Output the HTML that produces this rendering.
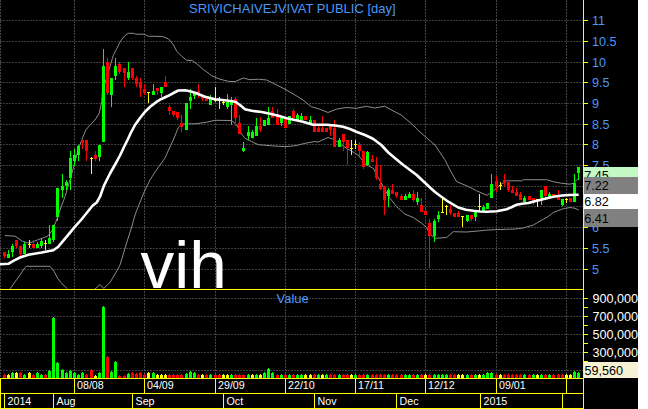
<!DOCTYPE html>
<html><head><meta charset="utf-8"><title>chart</title>
<style>
html,body{margin:0;padding:0;background:#fff;}
body{width:648px;height:409px;overflow:hidden;position:relative;font-family:"Liberation Sans",sans-serif;}
</style></head><body>
<svg width="648" height="409" viewBox="0 0 648 409" style="position:absolute;left:0;top:0">
<rect x="0" y="0" width="638" height="409" fill="#000"/>
<g stroke-width="1" stroke-dasharray="2 1" shape-rendering="crispEdges">
<g stroke="#3b3d3b">
<line x1="0" y1="20.5" x2="583" y2="20.5"/>
<line x1="0" y1="41.5" x2="583" y2="41.5"/>
<line x1="0" y1="62.5" x2="583" y2="62.5"/>
<line x1="0" y1="82.5" x2="583" y2="82.5"/>
<line x1="0" y1="103.5" x2="583" y2="103.5"/>
<line x1="0" y1="124.5" x2="583" y2="124.5"/>
<line x1="0" y1="144.5" x2="583" y2="144.5"/>
<line x1="0" y1="165.5" x2="583" y2="165.5"/>
<line x1="0" y1="186.5" x2="583" y2="186.5"/>
<line x1="0" y1="206.5" x2="583" y2="206.5"/>
<line x1="0" y1="227.5" x2="583" y2="227.5"/>
<line x1="0" y1="248.5" x2="583" y2="248.5"/>
<line x1="0" y1="269.5" x2="583" y2="269.5"/>
<line x1="0" y1="298.5" x2="583" y2="298.5"/>
<line x1="0" y1="316.5" x2="583" y2="316.5"/>
<line x1="0" y1="334.5" x2="583" y2="334.5"/>
<line x1="0" y1="352.5" x2="583" y2="352.5"/>
<line x1="0" y1="370.5" x2="583" y2="370.5"/>
</g><g stroke="#47434b">
<line x1="0.5" y1="0" x2="0.5" y2="378"/>
<line x1="74.5" y1="0" x2="74.5" y2="378"/>
<line x1="144.5" y1="0" x2="144.5" y2="378"/>
<line x1="215.5" y1="0" x2="215.5" y2="378"/>
<line x1="285.5" y1="0" x2="285.5" y2="378"/>
<line x1="355.5" y1="0" x2="355.5" y2="378"/>
<line x1="425.5" y1="0" x2="425.5" y2="378"/>
<line x1="496.5" y1="0" x2="496.5" y2="378"/>
<line x1="566.5" y1="0" x2="566.5" y2="378"/>
</g></g>
<text x="140.5" y="287.5" font-family="Liberation Sans, sans-serif" font-size="67.5" fill="#fff">vih</text>
<g fill="none" stroke="#8c8c8c" stroke-width="1">
<polyline points="5.0,235.5 15.0,236.2 22.5,241.2 27.5,243.0 32.0,242.0 37.5,240.0 47.5,236.2 52.5,230.0 56.2,221.0 60.0,210.0 65.0,196.7 70.5,178.3 74.2,165.0 77.5,151.7 81.7,140.0 85.8,130.0 90.0,125.0 95.0,120.0 99.2,113.3 101.7,101.7 102.5,90.0 103.3,88.7 108.3,72.0 113.3,55.3 116.7,48.7 120.0,42.0 124.2,36.2 128.3,33.3 133.3,33.3 135.8,34.2 144.2,34.2 148.3,36.2 162.5,36.5 168.3,38.7 173.3,44.5 176.7,51.2 181.7,56.2 186.7,60.3 192.5,60.7 196.7,63.7 203.3,69.5 208.0,72.8 211.7,75.8 220.0,79.2 228.3,81.3 235.0,81.7 243.3,78.0 250.0,79.7 258.3,79.2 266.7,80.0 275.0,84.2 285.0,89.2 295.0,95.0 303.0,100.0 311.3,106.7 319.7,109.2 328.0,112.5 336.3,109.2 346.3,107.5 356.3,108.3 366.3,106.3 374.7,108.0 384.7,106.3 393.0,110.8 401.3,115.0 411.0,123.3 420.0,132.0 428.0,139.0 435.0,145.0 441.7,155.0 445.0,160.0 450.0,170.0 456.7,181.7 466.7,185.8 476.7,190.8 486.7,195.3 491.7,192.5 500.0,185.0 506.7,180.8 521.7,180.8 523.3,179.7 546.7,179.7 553.3,181.7 561.7,183.3 570.0,184.2 573.3,183.3 576.7,180.0 578.7,178.3"/>
<polyline points="10.0,289.0 14.2,283.0 20.0,275.0 25.0,267.5 26.7,266.3 50.0,266.3 53.3,270.0 57.5,278.0 60.8,282.5 67.5,289.0"/>
<polyline points="95.0,289.0 100.0,284.5 103.7,288.5 110.0,282.5 115.0,274.0 120.0,265.0 127.5,240.0 131.7,227.0 135.0,215.0 138.0,207.0 145.0,190.0 150.0,180.0 155.0,172.0 160.0,165.0 165.0,158.0 169.0,149.0 173.3,140.0 178.3,127.5 181.7,124.2 188.3,123.8 195.0,123.8 205.0,122.5 215.0,120.3 231.7,120.5 236.7,125.0 241.7,134.2 245.0,138.3 251.7,141.7 258.3,144.7 271.7,145.8 285.0,146.7 295.0,145.8 305.0,143.3 315.0,141.5 318.0,142.0 328.0,137.5 334.7,139.7 341.3,145.0 349.7,150.0 358.0,155.0 362.0,160.0 365.0,164.2 373.3,168.3 380.0,180.8 385.0,190.0 390.0,198.3 396.7,206.7 405.0,214.2 413.3,217.5 421.7,223.3 426.7,227.5 430.0,234.2 435.0,238.3 446.7,237.5 453.3,231.7 466.7,232.0 480.0,230.8 488.0,230.0 500.0,229.5 515.0,229.0 523.3,228.0 533.3,225.0 543.3,219.2 548.0,216.7 553.3,212.5 561.7,209.2 570.0,207.5 575.0,208.3 578.7,210.0"/>
</g>
<g shape-rendering="crispEdges">
<rect x="4" y="252" width="1" height="6" fill="#ff0000"/>
<rect x="3" y="252" width="3" height="4" fill="#ff0000"/>
<rect x="8" y="250" width="1" height="8" fill="#00ff00"/>
<rect x="7" y="254" width="3" height="4" fill="#00ff00"/>
<rect x="12" y="244" width="1" height="13" fill="#00ff00"/>
<rect x="11" y="246" width="3" height="6" fill="#00ff00"/>
<rect x="16" y="240" width="1" height="8" fill="#ff0000"/>
<rect x="15" y="240" width="3" height="6" fill="#ff0000"/>
<rect x="20" y="246" width="1" height="10" fill="#ff0000"/>
<rect x="19" y="246" width="3" height="8" fill="#ff0000"/>
<rect x="24" y="242" width="1" height="12" fill="#00ff00"/>
<rect x="23" y="244" width="3" height="10" fill="#00ff00"/>
<rect x="29" y="240.0" width="1" height="8.0" fill="#ffff00"/>
<rect x="28" y="244" width="3" height="1" fill="#ffff00"/>
<rect x="33" y="240" width="1" height="8" fill="#ff0000"/>
<rect x="32" y="244" width="3" height="4" fill="#ff0000"/>
<rect x="37" y="242" width="1" height="6" fill="#00ff00"/>
<rect x="36" y="244" width="3" height="4" fill="#00ff00"/>
<rect x="41" y="238" width="1" height="10" fill="#00ff00"/>
<rect x="40" y="241" width="3" height="5" fill="#00ff00"/>
<rect x="45" y="240.0" width="1" height="10.0" fill="#ffff00"/>
<rect x="44" y="243" width="3" height="1" fill="#ffff00"/>
<rect x="49" y="225" width="1" height="19" fill="#00ff00"/>
<rect x="48" y="238" width="3" height="6" fill="#00ff00"/>
<rect x="53" y="225" width="1" height="17" fill="#00ff00"/>
<rect x="52" y="225" width="3" height="15" fill="#00ff00"/>
<rect x="57" y="188" width="1" height="33" fill="#00ff00"/>
<rect x="56" y="188" width="3" height="29" fill="#00ff00"/>
<rect x="62" y="174" width="1" height="24" fill="#00ff00"/>
<rect x="61" y="186" width="3" height="4" fill="#00ff00"/>
<rect x="66" y="180" width="1" height="10" fill="#00ff00"/>
<rect x="65" y="182" width="3" height="4" fill="#00ff00"/>
<rect x="70" y="151" width="1" height="39" fill="#00ff00"/>
<rect x="69" y="158" width="3" height="20" fill="#00ff00"/>
<rect x="74" y="149" width="1" height="17" fill="#00ff00"/>
<rect x="73" y="155" width="3" height="6" fill="#00ff00"/>
<rect x="78" y="145" width="1" height="16" fill="#00ff00"/>
<rect x="77" y="146" width="3" height="9" fill="#00ff00"/>
<rect x="82" y="140" width="1" height="9" fill="#ff0000"/>
<rect x="81" y="140" width="3" height="3" fill="#ff0000"/>
<rect x="86" y="140" width="1" height="21" fill="#ff0000"/>
<rect x="85" y="140" width="3" height="11" fill="#ff0000"/>
<rect x="91" y="157.0" width="1" height="17.0" fill="#ffff00"/>
<rect x="90" y="158" width="3" height="1" fill="#ffff00"/>
<rect x="95" y="151" width="1" height="10" fill="#ff0000"/>
<rect x="94" y="155" width="3" height="4" fill="#ff0000"/>
<rect x="99" y="145" width="1" height="16" fill="#00ff00"/>
<rect x="98" y="145" width="3" height="12" fill="#00ff00"/>
<rect x="103" y="49" width="1" height="93" fill="#00ff00"/>
<rect x="102" y="66" width="3" height="76" fill="#00ff00"/>
<rect x="107" y="58" width="1" height="37" fill="#ff0000"/>
<rect x="106" y="62" width="3" height="31" fill="#ff0000"/>
<rect x="111" y="78" width="1" height="29" fill="#00ff00"/>
<rect x="110" y="78" width="3" height="17" fill="#00ff00"/>
<rect x="115" y="58" width="1" height="22" fill="#00ff00"/>
<rect x="114" y="66" width="3" height="10" fill="#00ff00"/>
<rect x="119" y="62" width="1" height="12" fill="#ff0000"/>
<rect x="118" y="64" width="3" height="8" fill="#ff0000"/>
<rect x="124" y="68" width="1" height="19" fill="#ff0000"/>
<rect x="123" y="68" width="3" height="5" fill="#ff0000"/>
<rect x="128" y="62" width="1" height="18" fill="#00ff00"/>
<rect x="127" y="72" width="3" height="6" fill="#00ff00"/>
<rect x="132" y="68" width="1" height="12" fill="#ff0000"/>
<rect x="131" y="68" width="3" height="10" fill="#ff0000"/>
<rect x="136" y="76" width="1" height="11" fill="#ff0000"/>
<rect x="135" y="78" width="3" height="6" fill="#ff0000"/>
<rect x="140" y="78" width="1" height="19" fill="#ff0000"/>
<rect x="139" y="82" width="3" height="6" fill="#ff0000"/>
<rect x="144" y="84" width="1" height="11" fill="#ff0000"/>
<rect x="143" y="89" width="3" height="4" fill="#ff0000"/>
<rect x="148" y="92.0" width="1" height="11.0" fill="#ffff00"/>
<rect x="147" y="92" width="3" height="1" fill="#ffff00"/>
<rect x="153" y="84" width="1" height="11" fill="#00ff00"/>
<rect x="152" y="91" width="3" height="4" fill="#00ff00"/>
<rect x="157" y="88" width="1" height="7" fill="#ff0000"/>
<rect x="156" y="88" width="3" height="3" fill="#ff0000"/>
<rect x="161" y="87" width="1" height="10" fill="#00ff00"/>
<rect x="160" y="87" width="3" height="6" fill="#00ff00"/>
<rect x="165" y="76" width="1" height="11" fill="#ff0000"/>
<rect x="164" y="82" width="3" height="5" fill="#ff0000"/>
<rect x="169" y="105" width="1" height="10" fill="#ff0000"/>
<rect x="168" y="107" width="3" height="4" fill="#ff0000"/>
<rect x="173" y="111" width="1" height="6" fill="#ff0000"/>
<rect x="172" y="111" width="3" height="4" fill="#ff0000"/>
<rect x="177" y="112" width="1" height="8" fill="#ff0000"/>
<rect x="176" y="112" width="3" height="6" fill="#ff0000"/>
<rect x="181" y="115" width="1" height="17" fill="#ff0000"/>
<rect x="180" y="123" width="3" height="4" fill="#ff0000"/>
<rect x="186" y="103" width="1" height="27" fill="#00ff00"/>
<rect x="185" y="103" width="3" height="27" fill="#00ff00"/>
<rect x="190" y="89" width="1" height="20" fill="#00ff00"/>
<rect x="189" y="97" width="3" height="4" fill="#00ff00"/>
<rect x="194" y="92" width="1" height="7" fill="#00ff00"/>
<rect x="193" y="92" width="3" height="4" fill="#00ff00"/>
<rect x="198" y="84" width="1" height="14" fill="#ff0000"/>
<rect x="197" y="91" width="3" height="4" fill="#ff0000"/>
<rect x="202" y="97" width="1" height="4" fill="#ff0000"/>
<rect x="201" y="97" width="3" height="2" fill="#ff0000"/>
<rect x="206" y="97" width="1" height="4" fill="#ff0000"/>
<rect x="205" y="97" width="3" height="4" fill="#ff0000"/>
<rect x="210" y="95" width="1" height="10" fill="#00ff00"/>
<rect x="209" y="98" width="3" height="7" fill="#00ff00"/>
<rect x="215" y="87.0" width="1" height="15.0" fill="#ffff00"/>
<rect x="214" y="100" width="3" height="1" fill="#ffff00"/>
<rect x="219" y="97.0" width="1" height="12.0" fill="#ffff00"/>
<rect x="218" y="100" width="3" height="1" fill="#ffff00"/>
<rect x="223" y="101.0" width="1" height="4.0" fill="#ffff00"/>
<rect x="222" y="102" width="3" height="1" fill="#ffff00"/>
<rect x="227" y="94" width="1" height="15" fill="#00ff00"/>
<rect x="226" y="102" width="3" height="5" fill="#00ff00"/>
<rect x="231" y="97" width="1" height="28" fill="#00ff00"/>
<rect x="230" y="102" width="3" height="3" fill="#00ff00"/>
<rect x="235" y="97" width="1" height="29" fill="#ff0000"/>
<rect x="234" y="99" width="3" height="19" fill="#ff0000"/>
<rect x="239" y="115" width="1" height="19" fill="#ff0000"/>
<rect x="238" y="123" width="3" height="11" fill="#ff0000"/>
<rect x="243" y="142" width="1" height="10" fill="#00ff00"/>
<rect x="242" y="148" width="3" height="3" fill="#00ff00"/>
<rect x="248" y="126" width="1" height="14" fill="#00ff00"/>
<rect x="247" y="132" width="3" height="4" fill="#00ff00"/>
<rect x="252" y="130" width="1" height="8" fill="#00ff00"/>
<rect x="251" y="132" width="3" height="6" fill="#00ff00"/>
<rect x="256" y="118" width="1" height="18" fill="#00ff00"/>
<rect x="255" y="126" width="3" height="10" fill="#00ff00"/>
<rect x="260" y="117" width="1" height="15" fill="#ff0000"/>
<rect x="259" y="126" width="3" height="4" fill="#ff0000"/>
<rect x="264" y="120" width="1" height="6" fill="#00ff00"/>
<rect x="263" y="120" width="3" height="6" fill="#00ff00"/>
<rect x="268" y="107" width="1" height="18" fill="#00ff00"/>
<rect x="267" y="118" width="3" height="7" fill="#00ff00"/>
<rect x="272" y="107" width="1" height="11" fill="#ff0000"/>
<rect x="271" y="111" width="3" height="7" fill="#ff0000"/>
<rect x="277" y="109" width="1" height="16" fill="#ff0000"/>
<rect x="276" y="114" width="3" height="11" fill="#ff0000"/>
<rect x="281" y="118" width="1" height="8" fill="#00ff00"/>
<rect x="280" y="118" width="3" height="5" fill="#00ff00"/>
<rect x="285" y="119" width="1" height="9" fill="#ff0000"/>
<rect x="284" y="119" width="3" height="9" fill="#ff0000"/>
<rect x="289" y="116" width="1" height="8" fill="#00ff00"/>
<rect x="288" y="116" width="3" height="8" fill="#00ff00"/>
<rect x="293" y="109" width="1" height="9" fill="#ff0000"/>
<rect x="292" y="111" width="3" height="7" fill="#ff0000"/>
<rect x="297" y="113" width="1" height="7" fill="#00ff00"/>
<rect x="296" y="115" width="3" height="5" fill="#00ff00"/>
<rect x="301" y="113" width="1" height="7" fill="#00ff00"/>
<rect x="300" y="116" width="3" height="4" fill="#00ff00"/>
<rect x="305" y="116" width="1" height="4" fill="#ff0000"/>
<rect x="304" y="116" width="3" height="4" fill="#ff0000"/>
<rect x="310" y="116" width="1" height="8" fill="#00ff00"/>
<rect x="309" y="120" width="3" height="4" fill="#00ff00"/>
<rect x="314" y="120" width="1" height="12" fill="#ff0000"/>
<rect x="313" y="120" width="3" height="12" fill="#ff0000"/>
<rect x="318" y="126" width="1" height="6" fill="#ff0000"/>
<rect x="317" y="128" width="3" height="4" fill="#ff0000"/>
<rect x="322" y="116" width="1" height="16" fill="#ff0000"/>
<rect x="321" y="128" width="3" height="4" fill="#ff0000"/>
<rect x="326" y="128" width="1" height="4" fill="#ff0000"/>
<rect x="325" y="128" width="3" height="4" fill="#ff0000"/>
<rect x="330" y="126" width="1" height="10" fill="#ff0000"/>
<rect x="329" y="126" width="3" height="4" fill="#ff0000"/>
<rect x="334" y="120" width="1" height="27" fill="#ff0000"/>
<rect x="333" y="128" width="3" height="19" fill="#ff0000"/>
<rect x="339" y="138" width="1" height="9" fill="#00ff00"/>
<rect x="338" y="140" width="3" height="7" fill="#00ff00"/>
<rect x="343" y="134" width="1" height="17" fill="#ff0000"/>
<rect x="342" y="134" width="3" height="8" fill="#ff0000"/>
<rect x="347" y="140" width="1" height="25" fill="#ff0000"/>
<rect x="346" y="140" width="3" height="8" fill="#ff0000"/>
<rect x="351" y="140.0" width="1" height="15.0" fill="#ffff00"/>
<rect x="350" y="148" width="3" height="1" fill="#ffff00"/>
<rect x="355" y="140.0" width="1" height="9.0" fill="#ffff00"/>
<rect x="354" y="144" width="3" height="1" fill="#ffff00"/>
<rect x="359" y="142" width="1" height="14" fill="#ff0000"/>
<rect x="358" y="145" width="3" height="6" fill="#ff0000"/>
<rect x="363" y="151" width="1" height="18" fill="#ff0000"/>
<rect x="362" y="151" width="3" height="16" fill="#ff0000"/>
<rect x="367" y="151" width="1" height="14" fill="#00ff00"/>
<rect x="366" y="152" width="3" height="13" fill="#00ff00"/>
<rect x="372" y="155" width="1" height="7" fill="#ff0000"/>
<rect x="371" y="159" width="3" height="3" fill="#ff0000"/>
<rect x="376" y="157" width="1" height="23" fill="#ff0000"/>
<rect x="375" y="165" width="3" height="13" fill="#ff0000"/>
<rect x="380" y="165" width="1" height="25" fill="#ff0000"/>
<rect x="379" y="184" width="3" height="5" fill="#ff0000"/>
<rect x="384" y="186" width="1" height="29" fill="#ff0000"/>
<rect x="383" y="186" width="3" height="14" fill="#ff0000"/>
<rect x="388" y="188" width="1" height="19" fill="#00ff00"/>
<rect x="387" y="190" width="3" height="6" fill="#00ff00"/>
<rect x="392" y="184" width="1" height="10" fill="#ff0000"/>
<rect x="391" y="190" width="3" height="4" fill="#ff0000"/>
<rect x="396" y="192" width="1" height="6" fill="#ff0000"/>
<rect x="395" y="192" width="3" height="4" fill="#ff0000"/>
<rect x="401" y="194" width="1" height="6" fill="#ff0000"/>
<rect x="400" y="196" width="3" height="4" fill="#ff0000"/>
<rect x="405" y="194" width="1" height="6" fill="#00ff00"/>
<rect x="404" y="196" width="3" height="4" fill="#00ff00"/>
<rect x="409" y="192" width="1" height="6" fill="#00ff00"/>
<rect x="408" y="194" width="3" height="4" fill="#00ff00"/>
<rect x="413" y="190" width="1" height="12" fill="#ff0000"/>
<rect x="412" y="194" width="3" height="6" fill="#ff0000"/>
<rect x="417" y="192" width="1" height="13" fill="#00ff00"/>
<rect x="416" y="198" width="3" height="4" fill="#00ff00"/>
<rect x="421" y="198" width="1" height="14" fill="#ff0000"/>
<rect x="420" y="205" width="3" height="7" fill="#ff0000"/>
<rect x="425" y="207" width="1" height="8" fill="#ff0000"/>
<rect x="424" y="211" width="3" height="4" fill="#ff0000"/>
<rect x="429" y="219" width="1" height="49" fill="#ff0000"/>
<rect x="428" y="223" width="3" height="13" fill="#ff0000"/>
<rect x="434" y="219" width="1" height="23" fill="#00ff00"/>
<rect x="433" y="221" width="3" height="15" fill="#00ff00"/>
<rect x="438" y="211" width="1" height="11" fill="#00ff00"/>
<rect x="437" y="215" width="3" height="4" fill="#00ff00"/>
<rect x="442" y="198.0" width="1" height="15.0" fill="#ffff00"/>
<rect x="441" y="212" width="3" height="1" fill="#ffff00"/>
<rect x="446" y="205.0" width="1" height="10.0" fill="#ffff00"/>
<rect x="445" y="206" width="3" height="1" fill="#ffff00"/>
<rect x="450" y="205" width="1" height="10" fill="#ff0000"/>
<rect x="449" y="209" width="3" height="4" fill="#ff0000"/>
<rect x="454" y="213" width="1" height="4" fill="#ff0000"/>
<rect x="453" y="213" width="3" height="4" fill="#ff0000"/>
<rect x="458" y="211" width="1" height="6" fill="#ff0000"/>
<rect x="457" y="213" width="3" height="4" fill="#ff0000"/>
<rect x="462" y="216.0" width="1" height="11.0" fill="#ffff00"/>
<rect x="461" y="216" width="3" height="1" fill="#ffff00"/>
<rect x="467" y="215" width="1" height="7" fill="#00ff00"/>
<rect x="466" y="215" width="3" height="6" fill="#00ff00"/>
<rect x="471" y="215" width="1" height="6" fill="#ff0000"/>
<rect x="470" y="215" width="3" height="4" fill="#ff0000"/>
<rect x="475" y="212" width="1" height="9" fill="#00ff00"/>
<rect x="474" y="212" width="3" height="5" fill="#00ff00"/>
<rect x="479" y="194.0" width="1" height="17.0" fill="#ffff00"/>
<rect x="478" y="206" width="3" height="1" fill="#ffff00"/>
<rect x="483" y="205" width="1" height="6" fill="#00ff00"/>
<rect x="482" y="207" width="3" height="4" fill="#00ff00"/>
<rect x="487" y="203" width="1" height="6" fill="#00ff00"/>
<rect x="486" y="203" width="3" height="6" fill="#00ff00"/>
<rect x="491" y="174" width="1" height="24" fill="#00ff00"/>
<rect x="490" y="184" width="3" height="14" fill="#00ff00"/>
<rect x="496" y="176" width="1" height="16" fill="#ff0000"/>
<rect x="495" y="181" width="3" height="5" fill="#ff0000"/>
<rect x="500" y="182.0" width="1" height="8.0" fill="#ffff00"/>
<rect x="499" y="185" width="3" height="1" fill="#ffff00"/>
<rect x="504" y="174" width="1" height="12" fill="#ff0000"/>
<rect x="503" y="180" width="3" height="3" fill="#ff0000"/>
<rect x="508" y="182" width="1" height="10" fill="#ff0000"/>
<rect x="507" y="182" width="3" height="8" fill="#ff0000"/>
<rect x="512" y="186" width="1" height="7" fill="#ff0000"/>
<rect x="511" y="190" width="3" height="3" fill="#ff0000"/>
<rect x="516" y="188" width="1" height="8" fill="#ff0000"/>
<rect x="515" y="192" width="3" height="4" fill="#ff0000"/>
<rect x="520" y="192" width="1" height="8" fill="#ff0000"/>
<rect x="519" y="194" width="3" height="6" fill="#ff0000"/>
<rect x="524" y="196" width="1" height="6" fill="#00ff00"/>
<rect x="523" y="198" width="3" height="4" fill="#00ff00"/>
<rect x="529" y="196" width="1" height="4" fill="#ff0000"/>
<rect x="528" y="196" width="3" height="4" fill="#ff0000"/>
<rect x="533" y="198" width="1" height="7" fill="#ff0000"/>
<rect x="532" y="198" width="3" height="4" fill="#ff0000"/>
<rect x="537" y="199.0" width="1" height="8.0" fill="#ffff00"/>
<rect x="536" y="199" width="3" height="1" fill="#ffff00"/>
<rect x="541" y="190" width="1" height="15" fill="#00ff00"/>
<rect x="540" y="190" width="3" height="8" fill="#00ff00"/>
<rect x="545" y="186" width="1" height="12" fill="#ff0000"/>
<rect x="544" y="186" width="3" height="10" fill="#ff0000"/>
<rect x="549" y="192" width="1" height="6" fill="#00ff00"/>
<rect x="548" y="194" width="3" height="4" fill="#00ff00"/>
<rect x="553" y="194" width="1" height="3" fill="#ff0000"/>
<rect x="552" y="194" width="3" height="3" fill="#ff0000"/>
<rect x="558" y="190" width="1" height="10" fill="#ff0000"/>
<rect x="557" y="197" width="3" height="3" fill="#ff0000"/>
<rect x="562" y="199" width="1" height="7" fill="#00ff00"/>
<rect x="561" y="199" width="3" height="6" fill="#00ff00"/>
<rect x="566" y="198.0" width="1" height="5.0" fill="#ffff00"/>
<rect x="565" y="199" width="3" height="1" fill="#ffff00"/>
<rect x="570" y="198" width="1" height="4" fill="#ff0000"/>
<rect x="569" y="198" width="3" height="4" fill="#ff0000"/>
<rect x="574" y="174" width="1" height="28" fill="#00ff00"/>
<rect x="573" y="183" width="3" height="19" fill="#00ff00"/>
<rect x="578" y="167" width="1" height="13" fill="#00ff00"/>
<rect x="577" y="167" width="3" height="6" fill="#00ff00"/>
</g>
<polyline points="0.0,264.2 8.3,263.8 13.3,260.8 20.0,257.5 28.3,254.7 41.7,252.5 53.3,250.3 58.3,246.7 66.7,236.7 75.0,226.7 81.0,220.0 92.5,205.8 96.7,202.5 100.0,196.7 104.0,185.5 110.0,173.5 115.4,164.0 120.0,155.5 124.0,147.0 127.5,140.0 131.0,132.5 135.0,125.0 140.0,118.0 145.0,111.7 150.5,106.5 156.7,101.7 162.0,98.7 168.3,95.8 173.5,93.0 178.3,90.5 185.0,90.3 190.0,91.3 195.0,92.8 205.0,96.7 215.0,99.2 225.0,100.3 235.0,101.7 240.0,105.0 245.0,109.2 251.7,110.8 261.7,112.0 270.0,113.7 278.3,115.8 286.7,118.3 295.0,120.0 303.0,121.7 313.0,124.7 326.3,124.7 335.0,125.5 343.0,126.7 350.0,129.0 356.3,131.7 365.0,135.0 373.0,138.7 381.3,145.0 388.3,152.5 396.0,159.0 403.3,165.0 410.0,170.0 416.7,175.0 423.0,181.0 430.0,187.5 435.0,192.0 440.0,195.8 448.3,201.7 458.3,207.5 466.0,209.7 473.3,210.8 480.0,211.5 486.7,211.7 496.7,211.3 506.7,209.2 512.0,207.0 516.7,204.7 522.0,203.7 528.3,203.0 536.7,200.8 545.0,198.8 553.3,196.7 562.0,195.5 570.0,195.0 578.7,194.7" fill="none" stroke="#fff" stroke-width="2.6" stroke-linejoin="round"/>
<g shape-rendering="crispEdges">
<rect x="0" y="289" width="584" height="1" fill="#ffff00"/>
<rect x="3" y="375" width="3" height="3" fill="#ff0000"/>
<rect x="4" y="374" width="1" height="1" fill="#ff0000"/>
<rect x="7" y="375" width="3" height="3" fill="#ffff00"/>
<rect x="8" y="374" width="1" height="1" fill="#ffff00"/>
<rect x="11" y="373" width="3" height="5" fill="#00ff00"/>
<rect x="12" y="372" width="1" height="1" fill="#00ff00"/>
<rect x="15" y="373" width="3" height="5" fill="#ffff00"/>
<rect x="16" y="372" width="1" height="1" fill="#ffff00"/>
<rect x="19" y="373" width="3" height="5" fill="#ff0000"/>
<rect x="20" y="372" width="1" height="1" fill="#ff0000"/>
<rect x="23" y="375" width="3" height="3" fill="#00ff00"/>
<rect x="24" y="374" width="1" height="1" fill="#00ff00"/>
<rect x="28" y="373" width="3" height="5" fill="#ffff00"/>
<rect x="29" y="372" width="1" height="1" fill="#ffff00"/>
<rect x="32" y="375" width="3" height="3" fill="#ff0000"/>
<rect x="33" y="374" width="1" height="1" fill="#ff0000"/>
<rect x="36" y="373" width="3" height="5" fill="#00ff00"/>
<rect x="37" y="372" width="1" height="1" fill="#00ff00"/>
<rect x="40" y="375" width="3" height="3" fill="#00ff00"/>
<rect x="41" y="374" width="1" height="1" fill="#00ff00"/>
<rect x="44" y="375" width="3" height="3" fill="#ff0000"/>
<rect x="45" y="374" width="1" height="1" fill="#ff0000"/>
<rect x="48" y="371" width="3" height="7" fill="#00ff00"/>
<rect x="49" y="370" width="1" height="1" fill="#00ff00"/>
<rect x="52" y="318" width="3" height="60" fill="#00ff00"/>
<rect x="53" y="317" width="1" height="1" fill="#00ff00"/>
<rect x="56" y="363" width="3" height="15" fill="#00ff00"/>
<rect x="57" y="362" width="1" height="1" fill="#00ff00"/>
<rect x="61" y="370" width="3" height="8" fill="#00ff00"/>
<rect x="62" y="369" width="1" height="1" fill="#00ff00"/>
<rect x="65" y="373" width="3" height="5" fill="#00ff00"/>
<rect x="66" y="372" width="1" height="1" fill="#00ff00"/>
<rect x="69" y="371" width="3" height="7" fill="#00ff00"/>
<rect x="70" y="370" width="1" height="1" fill="#00ff00"/>
<rect x="73" y="373" width="3" height="5" fill="#00ff00"/>
<rect x="74" y="372" width="1" height="1" fill="#00ff00"/>
<rect x="77" y="375" width="3" height="3" fill="#00ff00"/>
<rect x="78" y="374" width="1" height="1" fill="#00ff00"/>
<rect x="81" y="373" width="3" height="5" fill="#00ff00"/>
<rect x="82" y="372" width="1" height="1" fill="#00ff00"/>
<rect x="85" y="375" width="3" height="3" fill="#ff0000"/>
<rect x="86" y="374" width="1" height="1" fill="#ff0000"/>
<rect x="90" y="370" width="3" height="8" fill="#ff0000"/>
<rect x="91" y="369" width="1" height="1" fill="#ff0000"/>
<rect x="94" y="376" width="3" height="2" fill="#ffff00"/>
<rect x="95" y="375" width="1" height="1" fill="#ffff00"/>
<rect x="98" y="373" width="3" height="5" fill="#00ff00"/>
<rect x="99" y="372" width="1" height="1" fill="#00ff00"/>
<rect x="102" y="307" width="3" height="71" fill="#00ff00"/>
<rect x="103" y="306" width="1" height="1" fill="#00ff00"/>
<rect x="106" y="357" width="3" height="21" fill="#ff0000"/>
<rect x="107" y="356" width="1" height="1" fill="#ff0000"/>
<rect x="110" y="372" width="3" height="6" fill="#00ff00"/>
<rect x="111" y="371" width="1" height="1" fill="#00ff00"/>
<rect x="114" y="362" width="3" height="16" fill="#00ff00"/>
<rect x="115" y="361" width="1" height="1" fill="#00ff00"/>
<rect x="118" y="376" width="3" height="2" fill="#ff0000"/>
<rect x="119" y="375" width="1" height="1" fill="#ff0000"/>
<rect x="123" y="376" width="3" height="2" fill="#ff0000"/>
<rect x="124" y="375" width="1" height="1" fill="#ff0000"/>
<rect x="127" y="374" width="3" height="4" fill="#00ff00"/>
<rect x="128" y="373" width="1" height="1" fill="#00ff00"/>
<rect x="131" y="373" width="3" height="5" fill="#ff0000"/>
<rect x="132" y="372" width="1" height="1" fill="#ff0000"/>
<rect x="135" y="374" width="3" height="4" fill="#ff0000"/>
<rect x="136" y="373" width="1" height="1" fill="#ff0000"/>
<rect x="139" y="373" width="3" height="5" fill="#ff0000"/>
<rect x="140" y="372" width="1" height="1" fill="#ff0000"/>
<rect x="143" y="375" width="3" height="3" fill="#ff0000"/>
<rect x="144" y="374" width="1" height="1" fill="#ff0000"/>
<rect x="147" y="373" width="3" height="5" fill="#ffff00"/>
<rect x="148" y="372" width="1" height="1" fill="#ffff00"/>
<rect x="152" y="373" width="3" height="5" fill="#00ff00"/>
<rect x="153" y="372" width="1" height="1" fill="#00ff00"/>
<rect x="156" y="375" width="3" height="3" fill="#ffff00"/>
<rect x="157" y="374" width="1" height="1" fill="#ffff00"/>
<rect x="160" y="375" width="3" height="3" fill="#ffff00"/>
<rect x="161" y="374" width="1" height="1" fill="#ffff00"/>
<rect x="164" y="375" width="3" height="3" fill="#ffff00"/>
<rect x="165" y="374" width="1" height="1" fill="#ffff00"/>
<rect x="168" y="375" width="3" height="3" fill="#ff0000"/>
<rect x="169" y="374" width="1" height="1" fill="#ff0000"/>
<rect x="172" y="375" width="3" height="3" fill="#ff0000"/>
<rect x="173" y="374" width="1" height="1" fill="#ff0000"/>
<rect x="176" y="375" width="3" height="3" fill="#ff0000"/>
<rect x="177" y="374" width="1" height="1" fill="#ff0000"/>
<rect x="180" y="375" width="3" height="3" fill="#ff0000"/>
<rect x="181" y="374" width="1" height="1" fill="#ff0000"/>
<rect x="185" y="374" width="3" height="4" fill="#00ff00"/>
<rect x="186" y="373" width="1" height="1" fill="#00ff00"/>
<rect x="189" y="372" width="3" height="6" fill="#00ff00"/>
<rect x="190" y="371" width="1" height="1" fill="#00ff00"/>
<rect x="193" y="373" width="3" height="5" fill="#00ff00"/>
<rect x="194" y="372" width="1" height="1" fill="#00ff00"/>
<rect x="197" y="375" width="3" height="3" fill="#ff0000"/>
<rect x="198" y="374" width="1" height="1" fill="#ff0000"/>
<rect x="201" y="375" width="3" height="3" fill="#ffff00"/>
<rect x="202" y="374" width="1" height="1" fill="#ffff00"/>
<rect x="205" y="375" width="3" height="3" fill="#ff0000"/>
<rect x="206" y="374" width="1" height="1" fill="#ff0000"/>
<rect x="209" y="375" width="3" height="3" fill="#00ff00"/>
<rect x="210" y="374" width="1" height="1" fill="#00ff00"/>
<rect x="214" y="375" width="3" height="3" fill="#ff0000"/>
<rect x="215" y="374" width="1" height="1" fill="#ff0000"/>
<rect x="218" y="375" width="3" height="3" fill="#ff0000"/>
<rect x="219" y="374" width="1" height="1" fill="#ff0000"/>
<rect x="222" y="375" width="3" height="3" fill="#ffff00"/>
<rect x="223" y="374" width="1" height="1" fill="#ffff00"/>
<rect x="226" y="375" width="3" height="3" fill="#ffff00"/>
<rect x="227" y="374" width="1" height="1" fill="#ffff00"/>
<rect x="230" y="375" width="3" height="3" fill="#00ff00"/>
<rect x="231" y="374" width="1" height="1" fill="#00ff00"/>
<rect x="234" y="375" width="3" height="3" fill="#ff0000"/>
<rect x="235" y="374" width="1" height="1" fill="#ff0000"/>
<rect x="238" y="375" width="3" height="3" fill="#ff0000"/>
<rect x="239" y="374" width="1" height="1" fill="#ff0000"/>
<rect x="242" y="375" width="3" height="3" fill="#ff0000"/>
<rect x="243" y="374" width="1" height="1" fill="#ff0000"/>
<rect x="247" y="375" width="3" height="3" fill="#00ff00"/>
<rect x="248" y="374" width="1" height="1" fill="#00ff00"/>
<rect x="251" y="375" width="3" height="3" fill="#ffff00"/>
<rect x="252" y="374" width="1" height="1" fill="#ffff00"/>
<rect x="255" y="375" width="3" height="3" fill="#00ff00"/>
<rect x="256" y="374" width="1" height="1" fill="#00ff00"/>
<rect x="259" y="375" width="3" height="3" fill="#ffff00"/>
<rect x="260" y="374" width="1" height="1" fill="#ffff00"/>
<rect x="263" y="373" width="3" height="5" fill="#00ff00"/>
<rect x="264" y="372" width="1" height="1" fill="#00ff00"/>
<rect x="267" y="369" width="3" height="9" fill="#00ff00"/>
<rect x="268" y="368" width="1" height="1" fill="#00ff00"/>
<rect x="271" y="373" width="3" height="5" fill="#00ff00"/>
<rect x="272" y="372" width="1" height="1" fill="#00ff00"/>
<rect x="276" y="375" width="3" height="3" fill="#ff0000"/>
<rect x="277" y="374" width="1" height="1" fill="#ff0000"/>
<rect x="280" y="375" width="3" height="3" fill="#00ff00"/>
<rect x="281" y="374" width="1" height="1" fill="#00ff00"/>
<rect x="284" y="375" width="3" height="3" fill="#ff0000"/>
<rect x="285" y="374" width="1" height="1" fill="#ff0000"/>
<rect x="288" y="375" width="3" height="3" fill="#00ff00"/>
<rect x="289" y="374" width="1" height="1" fill="#00ff00"/>
<rect x="292" y="375" width="3" height="3" fill="#ff0000"/>
<rect x="293" y="374" width="1" height="1" fill="#ff0000"/>
<rect x="296" y="375" width="3" height="3" fill="#00ff00"/>
<rect x="297" y="374" width="1" height="1" fill="#00ff00"/>
<rect x="300" y="375" width="3" height="3" fill="#00ff00"/>
<rect x="301" y="374" width="1" height="1" fill="#00ff00"/>
<rect x="304" y="375" width="3" height="3" fill="#ffff00"/>
<rect x="305" y="374" width="1" height="1" fill="#ffff00"/>
<rect x="309" y="375" width="3" height="3" fill="#ffff00"/>
<rect x="310" y="374" width="1" height="1" fill="#ffff00"/>
<rect x="313" y="375" width="3" height="3" fill="#ff0000"/>
<rect x="314" y="374" width="1" height="1" fill="#ff0000"/>
<rect x="317" y="375" width="3" height="3" fill="#00ff00"/>
<rect x="318" y="374" width="1" height="1" fill="#00ff00"/>
<rect x="321" y="375" width="3" height="3" fill="#ffff00"/>
<rect x="322" y="374" width="1" height="1" fill="#ffff00"/>
<rect x="325" y="375" width="3" height="3" fill="#00ff00"/>
<rect x="326" y="374" width="1" height="1" fill="#00ff00"/>
<rect x="329" y="375" width="3" height="3" fill="#ff0000"/>
<rect x="330" y="374" width="1" height="1" fill="#ff0000"/>
<rect x="333" y="375" width="3" height="3" fill="#ff0000"/>
<rect x="334" y="374" width="1" height="1" fill="#ff0000"/>
<rect x="338" y="375" width="3" height="3" fill="#00ff00"/>
<rect x="339" y="374" width="1" height="1" fill="#00ff00"/>
<rect x="342" y="375" width="3" height="3" fill="#ff0000"/>
<rect x="343" y="374" width="1" height="1" fill="#ff0000"/>
<rect x="346" y="375" width="3" height="3" fill="#ff0000"/>
<rect x="347" y="374" width="1" height="1" fill="#ff0000"/>
<rect x="350" y="375" width="3" height="3" fill="#ffff00"/>
<rect x="351" y="374" width="1" height="1" fill="#ffff00"/>
<rect x="354" y="375" width="3" height="3" fill="#00ff00"/>
<rect x="355" y="374" width="1" height="1" fill="#00ff00"/>
<rect x="358" y="375" width="3" height="3" fill="#ff0000"/>
<rect x="359" y="374" width="1" height="1" fill="#ff0000"/>
<rect x="362" y="375" width="3" height="3" fill="#ff0000"/>
<rect x="363" y="374" width="1" height="1" fill="#ff0000"/>
<rect x="366" y="375" width="3" height="3" fill="#00ff00"/>
<rect x="367" y="374" width="1" height="1" fill="#00ff00"/>
<rect x="371" y="375" width="3" height="3" fill="#ff0000"/>
<rect x="372" y="374" width="1" height="1" fill="#ff0000"/>
<rect x="375" y="375" width="3" height="3" fill="#ff0000"/>
<rect x="376" y="374" width="1" height="1" fill="#ff0000"/>
<rect x="379" y="375" width="3" height="3" fill="#ff0000"/>
<rect x="380" y="374" width="1" height="1" fill="#ff0000"/>
<rect x="383" y="375" width="3" height="3" fill="#ff0000"/>
<rect x="384" y="374" width="1" height="1" fill="#ff0000"/>
<rect x="387" y="375" width="3" height="3" fill="#00ff00"/>
<rect x="388" y="374" width="1" height="1" fill="#00ff00"/>
<rect x="391" y="375" width="3" height="3" fill="#ff0000"/>
<rect x="392" y="374" width="1" height="1" fill="#ff0000"/>
<rect x="395" y="375" width="3" height="3" fill="#ff0000"/>
<rect x="396" y="374" width="1" height="1" fill="#ff0000"/>
<rect x="400" y="375" width="3" height="3" fill="#ff0000"/>
<rect x="401" y="374" width="1" height="1" fill="#ff0000"/>
<rect x="404" y="375" width="3" height="3" fill="#00ff00"/>
<rect x="405" y="374" width="1" height="1" fill="#00ff00"/>
<rect x="408" y="375" width="3" height="3" fill="#00ff00"/>
<rect x="409" y="374" width="1" height="1" fill="#00ff00"/>
<rect x="412" y="375" width="3" height="3" fill="#ff0000"/>
<rect x="413" y="374" width="1" height="1" fill="#ff0000"/>
<rect x="416" y="375" width="3" height="3" fill="#00ff00"/>
<rect x="417" y="374" width="1" height="1" fill="#00ff00"/>
<rect x="420" y="375" width="3" height="3" fill="#ff0000"/>
<rect x="421" y="374" width="1" height="1" fill="#ff0000"/>
<rect x="424" y="375" width="3" height="3" fill="#ffff00"/>
<rect x="425" y="374" width="1" height="1" fill="#ffff00"/>
<rect x="428" y="375" width="3" height="3" fill="#ff0000"/>
<rect x="429" y="374" width="1" height="1" fill="#ff0000"/>
<rect x="433" y="375" width="3" height="3" fill="#00ff00"/>
<rect x="434" y="374" width="1" height="1" fill="#00ff00"/>
<rect x="437" y="375" width="3" height="3" fill="#00ff00"/>
<rect x="438" y="374" width="1" height="1" fill="#00ff00"/>
<rect x="441" y="375" width="3" height="3" fill="#00ff00"/>
<rect x="442" y="374" width="1" height="1" fill="#00ff00"/>
<rect x="445" y="375" width="3" height="3" fill="#00ff00"/>
<rect x="446" y="374" width="1" height="1" fill="#00ff00"/>
<rect x="449" y="375" width="3" height="3" fill="#ff0000"/>
<rect x="450" y="374" width="1" height="1" fill="#ff0000"/>
<rect x="453" y="375" width="3" height="3" fill="#ff0000"/>
<rect x="454" y="374" width="1" height="1" fill="#ff0000"/>
<rect x="457" y="375" width="3" height="3" fill="#ffff00"/>
<rect x="458" y="374" width="1" height="1" fill="#ffff00"/>
<rect x="461" y="375" width="3" height="3" fill="#ffff00"/>
<rect x="462" y="374" width="1" height="1" fill="#ffff00"/>
<rect x="466" y="375" width="3" height="3" fill="#00ff00"/>
<rect x="467" y="374" width="1" height="1" fill="#00ff00"/>
<rect x="470" y="375" width="3" height="3" fill="#ff0000"/>
<rect x="471" y="374" width="1" height="1" fill="#ff0000"/>
<rect x="474" y="375" width="3" height="3" fill="#00ff00"/>
<rect x="475" y="374" width="1" height="1" fill="#00ff00"/>
<rect x="478" y="375" width="3" height="3" fill="#ffff00"/>
<rect x="479" y="374" width="1" height="1" fill="#ffff00"/>
<rect x="482" y="375" width="3" height="3" fill="#00ff00"/>
<rect x="483" y="374" width="1" height="1" fill="#00ff00"/>
<rect x="486" y="373" width="3" height="5" fill="#00ff00"/>
<rect x="487" y="372" width="1" height="1" fill="#00ff00"/>
<rect x="490" y="373" width="3" height="5" fill="#00ff00"/>
<rect x="491" y="372" width="1" height="1" fill="#00ff00"/>
<rect x="495" y="375" width="3" height="3" fill="#ff0000"/>
<rect x="496" y="374" width="1" height="1" fill="#ff0000"/>
<rect x="499" y="375" width="3" height="3" fill="#ffff00"/>
<rect x="500" y="374" width="1" height="1" fill="#ffff00"/>
<rect x="503" y="375" width="3" height="3" fill="#ff0000"/>
<rect x="504" y="374" width="1" height="1" fill="#ff0000"/>
<rect x="507" y="375" width="3" height="3" fill="#ff0000"/>
<rect x="508" y="374" width="1" height="1" fill="#ff0000"/>
<rect x="511" y="375" width="3" height="3" fill="#ff0000"/>
<rect x="512" y="374" width="1" height="1" fill="#ff0000"/>
<rect x="515" y="375" width="3" height="3" fill="#ff0000"/>
<rect x="516" y="374" width="1" height="1" fill="#ff0000"/>
<rect x="519" y="375" width="3" height="3" fill="#ff0000"/>
<rect x="520" y="374" width="1" height="1" fill="#ff0000"/>
<rect x="523" y="375" width="3" height="3" fill="#00ff00"/>
<rect x="524" y="374" width="1" height="1" fill="#00ff00"/>
<rect x="528" y="375" width="3" height="3" fill="#ff0000"/>
<rect x="529" y="374" width="1" height="1" fill="#ff0000"/>
<rect x="532" y="375" width="3" height="3" fill="#00ff00"/>
<rect x="533" y="374" width="1" height="1" fill="#00ff00"/>
<rect x="536" y="375" width="3" height="3" fill="#ffff00"/>
<rect x="537" y="374" width="1" height="1" fill="#ffff00"/>
<rect x="540" y="375" width="3" height="3" fill="#00ff00"/>
<rect x="541" y="374" width="1" height="1" fill="#00ff00"/>
<rect x="544" y="375" width="3" height="3" fill="#ff0000"/>
<rect x="545" y="374" width="1" height="1" fill="#ff0000"/>
<rect x="548" y="375" width="3" height="3" fill="#00ff00"/>
<rect x="549" y="374" width="1" height="1" fill="#00ff00"/>
<rect x="552" y="375" width="3" height="3" fill="#ff0000"/>
<rect x="553" y="374" width="1" height="1" fill="#ff0000"/>
<rect x="557" y="375" width="3" height="3" fill="#ff0000"/>
<rect x="558" y="374" width="1" height="1" fill="#ff0000"/>
<rect x="561" y="375" width="3" height="3" fill="#ff0000"/>
<rect x="562" y="374" width="1" height="1" fill="#ff0000"/>
<rect x="565" y="375" width="3" height="3" fill="#ffff00"/>
<rect x="566" y="374" width="1" height="1" fill="#ffff00"/>
<rect x="569" y="375" width="3" height="3" fill="#ffff00"/>
<rect x="570" y="374" width="1" height="1" fill="#ffff00"/>
<rect x="573" y="372" width="3" height="6" fill="#00ff00"/>
<rect x="574" y="371" width="1" height="1" fill="#00ff00"/>
<rect x="577" y="373" width="3" height="5" fill="#00ff00"/>
<rect x="578" y="372" width="1" height="1" fill="#00ff00"/>
<rect x="583" y="0" width="1" height="409" fill="#ffff00"/>
<rect x="0" y="378" width="584" height="1" fill="#ffff00"/>
<rect x="0" y="393" width="584" height="1" fill="#ffff00"/>
<rect x="0" y="408" width="584" height="1" fill="#ffff00"/>
<rect x="0" y="378" width="1" height="15" fill="#ffff00"/>
<rect x="74" y="378" width="1" height="15" fill="#ffff00"/>
<rect x="144" y="378" width="1" height="15" fill="#ffff00"/>
<rect x="215" y="378" width="1" height="15" fill="#ffff00"/>
<rect x="285" y="378" width="1" height="15" fill="#ffff00"/>
<rect x="355" y="378" width="1" height="15" fill="#ffff00"/>
<rect x="425" y="378" width="1" height="15" fill="#ffff00"/>
<rect x="496" y="378" width="1" height="15" fill="#ffff00"/>
<rect x="566" y="378" width="1" height="15" fill="#ffff00"/>
<rect x="4" y="393" width="1" height="15" fill="#ffff00"/>
<rect x="53" y="393" width="1" height="15" fill="#ffff00"/>
<rect x="132" y="393" width="1" height="15" fill="#ffff00"/>
<rect x="223" y="393" width="1" height="15" fill="#ffff00"/>
<rect x="314" y="393" width="1" height="15" fill="#ffff00"/>
<rect x="396" y="393" width="1" height="15" fill="#ffff00"/>
<rect x="480" y="393" width="1" height="15" fill="#ffff00"/>
<rect x="562" y="393" width="1" height="15" fill="#ffff00"/>
<rect x="0" y="393" width="1" height="15" fill="#ffff00"/>
<rect x="584" y="20" width="4" height="1" fill="#ffff00"/>
<rect x="584" y="41" width="4" height="1" fill="#ffff00"/>
<rect x="584" y="62" width="4" height="1" fill="#ffff00"/>
<rect x="584" y="82" width="4" height="1" fill="#ffff00"/>
<rect x="584" y="103" width="4" height="1" fill="#ffff00"/>
<rect x="584" y="124" width="4" height="1" fill="#ffff00"/>
<rect x="584" y="144" width="4" height="1" fill="#ffff00"/>
<rect x="584" y="165" width="4" height="1" fill="#ffff00"/>
<rect x="584" y="186" width="4" height="1" fill="#ffff00"/>
<rect x="584" y="206" width="4" height="1" fill="#ffff00"/>
<rect x="584" y="227" width="4" height="1" fill="#ffff00"/>
<rect x="584" y="248" width="4" height="1" fill="#ffff00"/>
<rect x="584" y="269" width="4" height="1" fill="#ffff00"/>
<rect x="584" y="298" width="4" height="1" fill="#ffff00"/>
<rect x="584" y="307" width="4" height="1" fill="#ffff00"/>
<rect x="584" y="316" width="4" height="1" fill="#ffff00"/>
<rect x="584" y="325" width="4" height="1" fill="#ffff00"/>
<rect x="584" y="334" width="4" height="1" fill="#ffff00"/>
<rect x="584" y="343" width="4" height="1" fill="#ffff00"/>
<rect x="584" y="352" width="4" height="1" fill="#ffff00"/>
<rect x="584" y="361" width="4" height="1" fill="#ffff00"/>
</g>
<text x="189" y="13" font-family="Liberation Sans, sans-serif" font-size="13" fill="#4a98fb">SRIVICHAIVEJVIVAT PUBLIC [day]</text>
<text x="276.5" y="302.5" font-family="Liberation Sans, sans-serif" font-size="13" fill="#4a98fb">Value</text>
<text x="592" y="25.1" font-family="Liberation Sans, sans-serif" font-size="12.6" fill="#4a98fb">11</text>
<text x="592" y="45.8" font-family="Liberation Sans, sans-serif" font-size="12.6" fill="#4a98fb">10.5</text>
<text x="592" y="66.5" font-family="Liberation Sans, sans-serif" font-size="12.6" fill="#4a98fb">10</text>
<text x="592" y="87.2" font-family="Liberation Sans, sans-serif" font-size="12.6" fill="#4a98fb">9.5</text>
<text x="592" y="107.9" font-family="Liberation Sans, sans-serif" font-size="12.6" fill="#4a98fb">9</text>
<text x="592" y="128.7" font-family="Liberation Sans, sans-serif" font-size="12.6" fill="#4a98fb">8.5</text>
<text x="592" y="149.4" font-family="Liberation Sans, sans-serif" font-size="12.6" fill="#4a98fb">8</text>
<text x="592" y="170.1" font-family="Liberation Sans, sans-serif" font-size="12.6" fill="#4a98fb">7.5</text>
<text x="592" y="190.8" font-family="Liberation Sans, sans-serif" font-size="12.6" fill="#4a98fb">7</text>
<text x="592" y="211.5" font-family="Liberation Sans, sans-serif" font-size="12.6" fill="#4a98fb">6.5</text>
<text x="592" y="232.2" font-family="Liberation Sans, sans-serif" font-size="12.6" fill="#4a98fb">6</text>
<text x="592" y="252.9" font-family="Liberation Sans, sans-serif" font-size="12.6" fill="#4a98fb">5.5</text>
<text x="592" y="273.6" font-family="Liberation Sans, sans-serif" font-size="12.6" fill="#4a98fb">5</text>
<text x="592.5" y="302.8" font-family="Liberation Sans, sans-serif" font-size="12.6" fill="#fff">900,000</text>
<text x="592.5" y="320.8" font-family="Liberation Sans, sans-serif" font-size="12.6" fill="#fff">700,000</text>
<text x="592.5" y="338.8" font-family="Liberation Sans, sans-serif" font-size="12.6" fill="#fff">500,000</text>
<text x="592.5" y="356.8" font-family="Liberation Sans, sans-serif" font-size="12.6" fill="#fff">300,000</text>
<rect x="584" y="167" width="54" height="10" fill="#c4f8c4"/>
<svg x="584" y="167" width="54" height="10" viewBox="584 167 54 10"><text x="584.3" y="180" font-family="Liberation Sans, sans-serif" font-size="12.6" fill="#000">7.45</text></svg>
<rect x="584" y="177" width="54" height="17" fill="#808080"/>
<text x="584.3" y="190" font-family="Liberation Sans, sans-serif" font-size="12.6" fill="#000">7.22</text>
<rect x="584" y="194" width="54" height="15" fill="#ffffff"/>
<text x="584.3" y="206.3" font-family="Liberation Sans, sans-serif" font-size="12.6" fill="#000">6.82</text>
<rect x="584" y="209" width="54" height="18" fill="#808080"/>
<text x="584.3" y="222.5" font-family="Liberation Sans, sans-serif" font-size="12.6" fill="#000">6.41</text>
<rect x="584" y="362" width="54" height="16" fill="#f6f2d4"/>
<text x="584.5" y="375" font-family="Liberation Sans, sans-serif" font-size="12.6" fill="#000">59,560</text>
<text x="77.0" y="389" font-family="Liberation Sans, sans-serif" font-size="10.7" fill="#fff">08/08</text>
<text x="147.0" y="389" font-family="Liberation Sans, sans-serif" font-size="10.7" fill="#fff">04/09</text>
<text x="218.0" y="389" font-family="Liberation Sans, sans-serif" font-size="10.7" fill="#fff">29/09</text>
<text x="288.0" y="389" font-family="Liberation Sans, sans-serif" font-size="10.7" fill="#fff">22/10</text>
<text x="358.0" y="389" font-family="Liberation Sans, sans-serif" font-size="10.7" fill="#fff">17/11</text>
<text x="428.0" y="389" font-family="Liberation Sans, sans-serif" font-size="10.7" fill="#fff">12/12</text>
<text x="499.0" y="389" font-family="Liberation Sans, sans-serif" font-size="10.7" fill="#fff">09/01</text>
<text x="7.5" y="405" font-family="Liberation Sans, sans-serif" font-size="10.7" fill="#fff">2014</text>
<text x="56.5" y="405" font-family="Liberation Sans, sans-serif" font-size="10.7" fill="#fff">Aug</text>
<text x="135.5" y="405" font-family="Liberation Sans, sans-serif" font-size="10.7" fill="#fff">Sep</text>
<text x="226.5" y="405" font-family="Liberation Sans, sans-serif" font-size="10.7" fill="#fff">Oct</text>
<text x="317.5" y="405" font-family="Liberation Sans, sans-serif" font-size="10.7" fill="#fff">Nov</text>
<text x="399.5" y="405" font-family="Liberation Sans, sans-serif" font-size="10.7" fill="#fff">Dec</text>
<text x="483.5" y="405" font-family="Liberation Sans, sans-serif" font-size="10.7" fill="#fff">2015</text>
</svg>
</body></html>
